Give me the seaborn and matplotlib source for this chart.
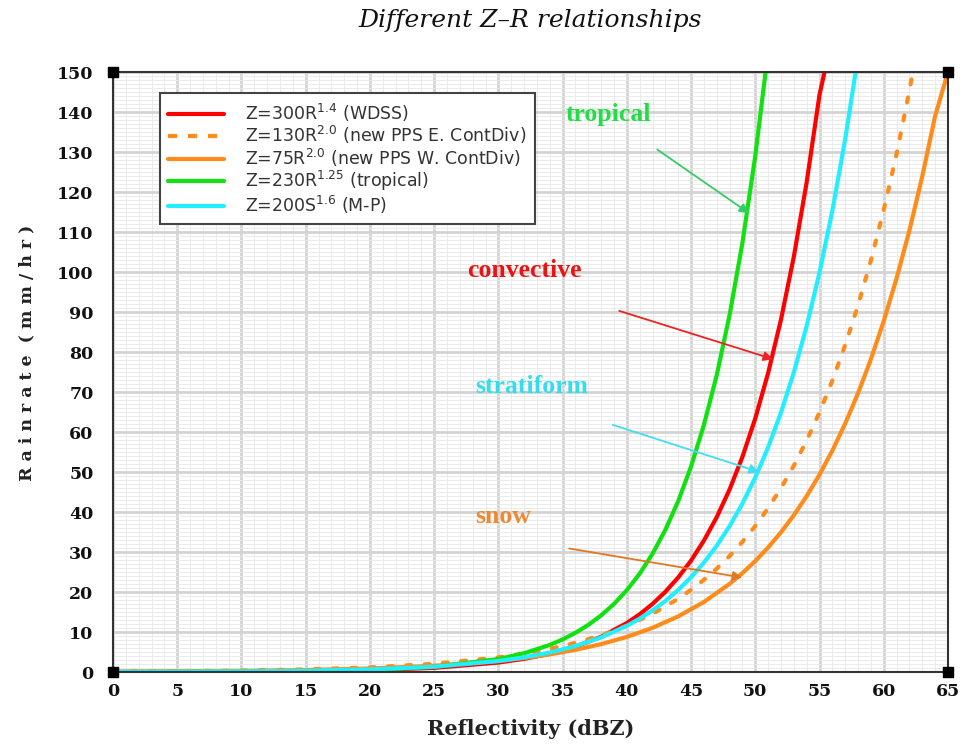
import matplotlib
matplotlib.use("Agg")
import matplotlib.pyplot as plt
import seaborn as sns
import pandas as pd

# ---------------- data ----------------
red_dbz = [0, 5, 10, 15, 20, 25, 30, 32, 34, 36, 38, 40, 41, 42, 43, 44, 45, 46, 47,
           48, 49, 50, 51, 52, 53, 54, 55, 55.5]
red_rr = [0.02, 0.04, 0.09, 0.20, 0.46, 1.04, 2.36, 3.28, 4.56, 6.34, 8.81, 12.24, 14.43,
          17.01, 20.05, 23.63, 27.86, 32.84, 38.71, 45.63, 53.78, 63.40, 74.73, 88.08,
          103.8, 122.4, 144.3, 151.6]

dash_dbz = [0, 5, 10, 15, 20, 25, 30, 32, 34, 36, 38, 40, 42, 44, 45, 46, 47, 48, 49,
            50, 51, 52, 53, 54, 55, 56, 57, 58, 59, 60, 61, 62, 63]
dash_rr = [0.12, 0.21, 0.37, 0.65, 1.15, 2.05, 3.65, 4.60, 5.79, 7.29, 9.17, 11.55,
           14.54, 18.30, 20.54, 23.04, 25.85, 29.00, 32.54, 36.51, 40.97, 45.97, 51.58,
           57.87, 64.93, 72.85, 81.74, 91.71, 102.9, 115.5, 129.5, 145.4, 163.1]

orng_dbz = [0, 5, 10, 15, 20, 25, 30, 32, 34, 36, 38, 40, 42, 44, 46, 48, 49, 50, 51,
            52, 53, 54, 55, 56, 57, 58, 59, 60, 61, 62, 63, 64, 65]
orng_rr = [0.09, 0.16, 0.28, 0.49, 0.88, 1.56, 2.77, 3.49, 4.40, 5.54, 6.97, 8.77,
           11.04, 13.90, 17.50, 22.03, 24.73, 27.74, 31.13, 34.93, 39.19, 43.97, 49.34,
           55.36, 62.11, 69.69, 78.19, 87.73, 98.42, 110.4, 123.9, 139.0, 150.0]

green_dbz = [0, 5, 10, 15, 20, 25, 30, 32, 34, 35, 36, 37, 38, 39, 40, 41, 42, 43, 44,
             45, 46, 47, 48, 49, 50, 51]
green_rr = [0.01, 0.03, 0.08, 0.20, 0.51, 1.29, 3.24, 4.68, 6.77, 8.14, 9.79, 11.77,
            14.15, 17.01, 20.45, 24.58, 29.55, 35.53, 42.71, 51.35, 61.74, 74.22, 89.24,
            107.3, 129.0, 155.1]

cyan_dbz = [0, 5, 10, 15, 20, 25, 30, 32, 34, 36, 38, 40, 41, 42, 43, 44, 45, 46, 47,
            48, 49, 50, 51, 52, 53, 54, 55, 56, 57, 58]
cyan_rr = [0.04, 0.08, 0.15, 0.32, 0.65, 1.33, 2.73, 3.65, 4.86, 6.49, 8.65, 11.53,
           13.32, 15.38, 17.76, 20.50, 23.68, 27.35, 31.58, 36.47, 42.11, 48.63, 56.16,
           64.85, 74.89, 86.48, 99.86, 115.3, 133.2, 153.8]

labels = ["Z=300R$^{1.4}$ (WDSS)",
          "Z=130R$^{2.0}$ (new PPS E. ContDiv)",
          "Z=75R$^{2.0}$ (new PPS W. ContDiv)",
          "Z=230R$^{1.25}$ (tropical)",
          "Z=200S$^{1.6}$ (M-P)"]

x_ticks = [0, 5, 10, 15, 20, 25, 30, 35, 40, 45, 50, 55, 60, 65]
y_ticks = [0, 10, 20, 30, 40, 50, 60, 70, 80, 90, 100, 110, 120, 130, 140, 150]

# ---------------- figure ----------------
sns.set_theme(style="white")
plt.rcParams["font.family"] = ["DejaVu Sans"]

fig = plt.figure(figsize=(9.68, 7.48), dpi=100)
ax = fig.add_axes([0.1167, 0.1016, 0.8626, 0.8021])

# grid
ax.set_xticks(x_ticks)
ax.set_yticks(y_ticks)
ax.set_xticks(range(0, 66, 1), minor=True)
ax.set_yticks(range(0, 151, 1), minor=True)
ax.grid(which="minor", color="#e8e8e8", linewidth=0.6, zorder=0)
ax.grid(which="major", color="#d4d4d4", linewidth=2.0, zorder=0)
ax.set_axisbelow(True)

dash_style = (0, (1.2, 3.2))
series = [
    (red_dbz, red_rr, "#ff0000", "-", labels[0]),
    (dash_dbz, dash_rr, "#ff8c1a", dash_style, labels[1]),
    (orng_dbz, orng_rr, "#ff8c1a", "-", labels[2]),
    (green_dbz, green_rr, "#11e011", "-", labels[3]),
    (cyan_dbz, cyan_rr, "#22eeff", "-", labels[4]),
]
for xs, ys, col, ls, lab in series:
    df = pd.DataFrame({"dBZ": xs, "R": ys})
    sns.lineplot(data=df, x="dBZ", y="R", ax=ax, color=col, linewidth=3.0,
                 linestyle=ls, sort=True, label=lab, legend=False,
                 dash_capstyle="round")

ax.set_xlim(0, 65)
ax.set_ylim(0, 150)

# legend
leg_handles = [
    plt.Line2D([], [], color="#ff0000", lw=3),
    plt.Line2D([], [], color="#ff8c1a", lw=3, ls=(0, (2.2, 2.6))),
    plt.Line2D([], [], color="#ff8c1a", lw=3),
    plt.Line2D([], [], color="#11e011", lw=3),
    plt.Line2D([], [], color="#22eeff", lw=3),
]
leg = ax.legend(leg_handles, labels, loc="upper left", bbox_to_anchor=(0.056, 0.965),
                borderaxespad=0.0, frameon=True, fancybox=False, edgecolor="#444444",
                facecolor="white", framealpha=1.0,
                prop={"family": "DejaVu Sans", "size": 12.5},
                handlelength=3.2, labelspacing=0.02, borderpad=0.5, handletextpad=1.2)
leg.get_frame().set_linewidth(1.5)
for t in leg.get_texts():
    t.set_color("#333333")

# spines
for s in ax.spines.values():
    s.set_color("#333333")
    s.set_linewidth(1.5)

# ticks
serif = ["DejaVu Serif"]
ax.tick_params(axis="both", which="both", length=0)
ax.tick_params(axis="x", pad=8)
ax.tick_params(axis="y", pad=14)
for lab in ax.get_xticklabels() + ax.get_yticklabels():
    lab.set_family(serif)
    lab.set_fontweight("bold")
    lab.set_fontsize(12.5)
    lab.set_color("#111111")

ax.set_xlabel("Reflectivity (dBZ)", family=serif, fontweight="bold", fontsize=15,
              color="#222222")
ax.xaxis.set_label_coords(0.5, -0.078)
ax.set_ylabel("R a i n r a t e  ( m m / h r )", family=serif, fontweight="bold",
              fontsize=12.5, color="#222222")
ax.yaxis.set_label_coords(-0.093, 0.532)

fig.text(0.548, 0.972, "Different Z–R relationships", family=serif,
         style="italic", fontsize=18, ha="center", va="center", color="#111111")

# corner markers
ax.scatter([0, 0, 65, 65], [0, 150, 0, 150], marker="s", s=60, color="black",
           clip_on=False, zorder=10)

# annotations
bold_serif = dict(family=["Liberation Serif"], fontweight="bold", fontsize=18.5)
ax.text(35.2, 139.3, "tropical", color="#22dd44", va="center", ha="left", **bold_serif)
ax.annotate("", xy=(49.7, 114.3), xytext=(42.2, 131),
            arrowprops=dict(arrowstyle="-|>", color="#33cc66", lw=1.3, mutation_scale=14))
ax.text(27.6, 100.3, "convective", color="#ee1111", va="center", ha="left", **bold_serif)
ax.annotate("", xy=(51.6, 78), xytext=(39.2, 90.5),
            arrowprops=dict(arrowstyle="-|>", color="#ee2222", lw=1.3, mutation_scale=14))
ax.text(28.2, 71.3, "stratiform", color="#33ddee", va="center", ha="left", **bold_serif)
ax.annotate("", xy=(50.5, 49.8), xytext=(38.7, 62),
            arrowprops=dict(arrowstyle="-|>", color="#44ddee", lw=1.3, mutation_scale=14))
ax.text(28.2, 38.8, "snow", color="#ee8833", va="center", ha="left", **bold_serif)
ax.annotate("", xy=(49.2, 23.5), xytext=(35.3, 31),
            arrowprops=dict(arrowstyle="-|>", color="#e07722", lw=1.3, mutation_scale=14))

fig.savefig("out.png", dpi=100, facecolor="white")
